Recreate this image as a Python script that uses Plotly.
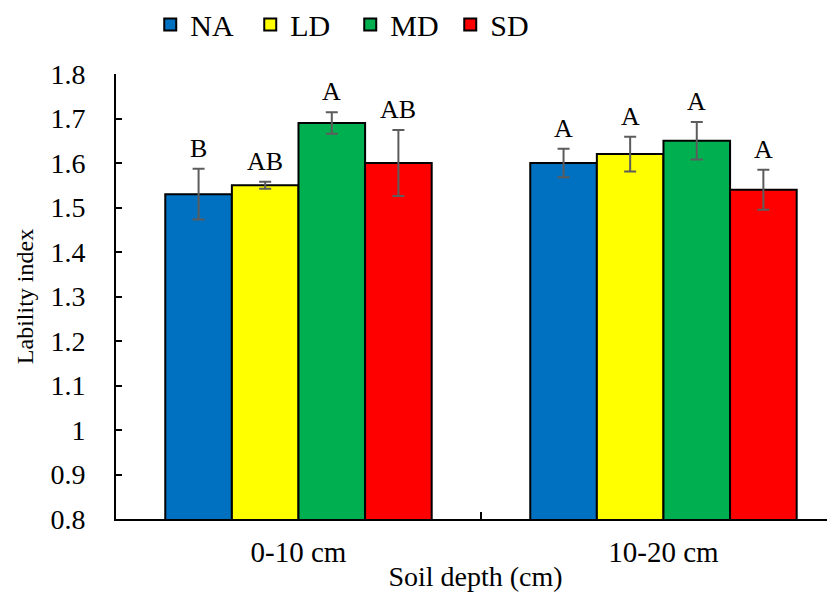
import plotly.graph_objects as go

categories = ["0-10 cm", "10-20 cm"]
series = ["NA", "LD", "MD", "SD"]
colors = ["#0070C0", "#FFFF00", "#00B050", "#FF0000"]
values = {
    "NA": [1.53, 1.60],
    "LD": [1.55, 1.62],
    "MD": [1.69, 1.65],
    "SD": [1.60, 1.54],
}
errors = {
    "NA": [0.057, 0.032],
    "LD": [0.008, 0.039],
    "MD": [0.024, 0.042],
    "SD": [0.074, 0.045],
}
letters = {
    "NA": ["B", "A"],
    "LD": ["AB", "A"],
    "MD": ["A", "A"],
    "SD": ["AB", "A"],
}

FONT = "Liberation Serif"
bargap = 0.27

fig = go.Figure()
for s, c in zip(series, colors):
    fig.add_trace(go.Bar(
        name=s, x=categories, y=values[s], marker_color=c,
        marker_line=dict(color="black", width=2),
        error_y=dict(type="data", array=errors[s], color="#5c5c5c",
                     thickness=2, width=6),
    ))

w = (1 - bargap) / len(series)
for i, s in enumerate(series):
    for j, cat in enumerate(categories):
        fig.add_annotation(
            x=j + (i - (len(series) - 1) / 2) * w, xref="x",
            y=values[s][j] + errors[s][j], yref="y",
            text=letters[s][j], showarrow=False,
            yanchor="bottom", yshift=4,
            font=dict(family=FONT, size=26, color="black"),
        )

fig.update_layout(
    width=827, height=587,
    margin=dict(l=108, r=0, t=66, b=76),
    paper_bgcolor="white", plot_bgcolor="white",
    barmode="group", bargap=bargap, bargroupgap=0,
    font=dict(family=FONT, size=26, color="black"),
    showlegend=True,
    legend=dict(orientation="h", xref="container", yref="container",
                x=0.172, y=0.972, xanchor="left", yanchor="middle",
                font=dict(family=FONT, size=30, color="black"),
                entrywidth=55, itemwidth=30, traceorder="normal"),
)
fig.update_xaxes(
    type="category",
    range=[-0.5, 1.47], showline=True, linecolor="black", linewidth=2,
    ticks="inside", tickson="boundaries", ticklen=7, tickwidth=2,
    tickcolor="black", ticklabelstandoff=6, automargin=False,
    title=dict(text="Soil depth (cm)", standoff=0,
               font=dict(family=FONT, size=28)),
    tickfont=dict(family=FONT, size=29), showgrid=False, zeroline=False,
)
fig.update_yaxes(
    range=[0.8, 1.8], dtick=0.1, tick0=0.8, showline=True,
    linecolor="black", linewidth=2, ticks="inside", ticklen=6,
    tickwidth=2, tickcolor="black", ticklabelstandoff=23, automargin=False,
    title=dict(text="Lability index", standoff=10,
               font=dict(family=FONT, size=24)),
    tickfont=dict(family=FONT, size=28), showgrid=False, zeroline=False,
    tickformat="~g",
)
fig.write_html("out.html")
